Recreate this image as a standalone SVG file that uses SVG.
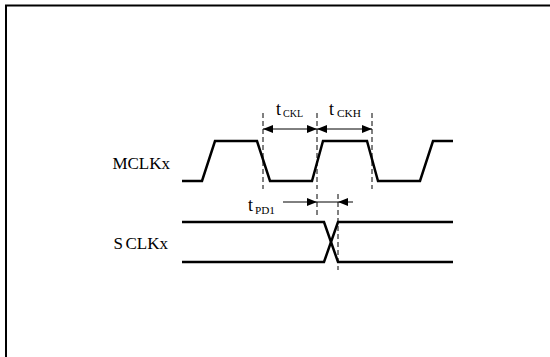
<svg xmlns="http://www.w3.org/2000/svg" width="550" height="357" viewBox="0 0 550 357">
<style>
.wave{fill:none;stroke:#000;stroke-width:2.5;stroke-linejoin:miter}
.dash{fill:none;stroke:#000;stroke-width:1;stroke-dasharray:5,3}
.dim{fill:none;stroke:#000;stroke-width:1}
.lbl{font-family:"Liberation Serif","Times New Roman",serif;font-size:17px;fill:#000;text-anchor:end}
.t{font-family:"Liberation Serif","Times New Roman",serif;font-size:18px;fill:#000}
.sub{font-family:"Liberation Serif","Times New Roman",serif;font-size:10.5px;fill:#000}
</style>
<defs>
<marker id="ah" viewBox="0 0 10 8" refX="10" refY="4" markerWidth="11" markerHeight="8" markerUnits="userSpaceOnUse" orient="auto-start-reverse">
<path d="M0,0 L10,4 L0,8 Z" fill="#000"/>
</marker>
</defs>
<rect x="0" y="0" width="550" height="357" fill="#fff"/>
<path d="M6,357 V5.5 H550" fill="none" stroke="#000" stroke-width="2"/>
<g id="label-mclkx"><text class="lbl" x="170" y="169">MCLKx</text></g>
<g id="label-sclkx"><text class="lbl" x="168" y="249">S<tspan dx="2.5">CLKx</tspan></text></g>
<g id="mclkx-wave"><path class="wave" d="M182,181 H202 L215,141 H257 L270,181 H312 L323,141 H367 L378,181 H420 L433,141 H453"/></g>
<g id="sclkx-wave">
<path class="wave" d="M182,222 H324 L338,262 H453"/>
<path class="wave" d="M182,262 H324 L338,222 H453"/>
</g>
<g id="connectors">
<line class="dash" x1="263" y1="113" x2="263" y2="189"/>
<line class="dash" x1="317" y1="113" x2="317" y2="189"/>
<line class="dash" x1="372" y1="113" x2="372" y2="189"/>
<line class="dash" x1="317" y1="194" x2="317" y2="216"/>
<line class="dash" x1="338" y1="194" x2="338" y2="270"/>
<line class="dim" x1="263" y1="129" x2="317" y2="129" marker-start="url(#ah)" marker-end="url(#ah)"/>
<line class="dim" x1="317" y1="129" x2="372" y2="129" marker-start="url(#ah)" marker-end="url(#ah)"/>
<line class="dim" x1="283" y1="202" x2="317" y2="202" marker-end="url(#ah)"/>
<line class="dim" x1="317" y1="202" x2="338" y2="202"/>
<line class="dim" x1="353" y1="202" x2="338" y2="202" marker-end="url(#ah)"/>
</g>
<g id="label-tckl"><text class="t" x="276" y="115">t</text><text class="sub" x="283" y="117" textLength="20" lengthAdjust="spacingAndGlyphs">CKL</text></g>
<g id="label-tckh"><text class="t" x="329" y="115">t</text><text class="sub" x="337" y="117" textLength="24" lengthAdjust="spacingAndGlyphs">CKH</text></g>
<g id="label-tpd1"><text class="t" x="248" y="211">t</text><text class="sub" x="255" y="214" textLength="20" lengthAdjust="spacingAndGlyphs">PD1</text></g>
</svg>
